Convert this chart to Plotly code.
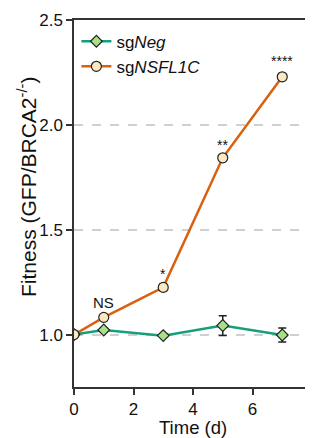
import plotly.graph_objects as go

days = [0, 1, 3, 5, 7]
neg_vals = [1.0, 1.022, 0.995, 1.043, 0.998]
neg_err = [0.005, 0.008, 0.006, 0.047, 0.033]
nsf_vals = [1.0, 1.082, 1.225, 1.843, 2.229]
nsf_err = [0.005, 0.008, 0.016, 0.008, 0.008]
sig_labels = ["NS", "*", "**", "****"]
sig_x = [1, 3, 5, 7]
sig_y = [1.155, 1.29, 1.905, 2.305]
x_ticks = [0, 2, 4, 6, 8]
y_ticks = [1.0, 1.5, 2.0, 2.5]

FONT = "Arial, Liberation Sans, sans-serif"
AX = "#333333"

fig = go.Figure()
fig.add_trace(go.Scatter(
    x=days, y=neg_vals, name="sg<i>Neg</i>", mode="lines+markers",
    line=dict(color="#16a07a", width=2.5),
    marker=dict(symbol="diamond", size=9, color="#a8e08a", line=dict(color="#222222", width=1.2)),
    error_y=dict(type="data", array=neg_err, visible=True, color="#222222", thickness=1.5, width=4),
))
fig.add_trace(go.Scatter(
    x=days, y=nsf_vals, name="sg<i>NSFL1C</i>", mode="lines+markers",
    line=dict(color="#d9600e", width=2.5),
    marker=dict(symbol="circle", size=10, color="#fde8c0", line=dict(color="#222222", width=1.2)),
    error_y=dict(type="data", array=nsf_err, visible=True, color="#222222", thickness=1.5, width=4),
))

for lab, xx, yy in zip(sig_labels, sig_x, sig_y):
    fig.add_annotation(x=xx, y=yy, text=lab, showarrow=False,
                       font=dict(family=FONT, size=15 if lab == "NS" else 14, color="#111111"))

fig.add_annotation(xref="paper", yref="paper", x=-0.2, y=0.546, xanchor="center", yanchor="middle",
                   text="Fitness (GFP/BRCA2<sup>-/-</sup>)",
                   textangle=-90, showarrow=False, font=dict(family=FONT, size=21, color="#111111"))
fig.add_annotation(xref="paper", yref="paper", x=0.5, y=-0.11, xanchor="center", yanchor="middle",
                   text="Time (d)",
                   showarrow=False, font=dict(family=FONT, size=18.5, color="#111111"))

fig.update_layout(
    width=305, height=430,
    margin=dict(l=66, r=1, t=12, b=51, autoexpand=False),
    paper_bgcolor="white", plot_bgcolor="white",
    font=dict(family=FONT, color="#111111"),
    showlegend=True,
    legend=dict(x=0.01, y=0.99, xanchor="left", yanchor="top", bgcolor="rgba(0,0,0,0)",
                font=dict(family=FONT, size=17), itemwidth=30, tracegroupgap=0),
    xaxis=dict(range=[0, 8], tickvals=x_ticks, showgrid=False, zeroline=False, automargin=False,
               showline=True, linecolor=AX, linewidth=1.5, mirror=True,
               ticks="outside", ticklen=6, tickwidth=1.5, tickcolor=AX,
               ticklabeloverflow="allow",
               tickfont=dict(family=FONT, size=17)),
    yaxis=dict(range=[0.75, 2.5], tickvals=y_ticks, ticktext=["1.0", "1.5", "2.0", "2.5"],
               showgrid=True, gridcolor="#d0d0d0", gridwidth=2, griddash="dash", zeroline=False,
               automargin=False,
               showline=True, linecolor=AX, linewidth=1.5, mirror=True,
               ticks="outside", ticklen=6, tickwidth=1.5, tickcolor=AX,
               ticklabeloverflow="allow",
               tickfont=dict(family=FONT, size=17)),
)

fig.write_html("out.html")
